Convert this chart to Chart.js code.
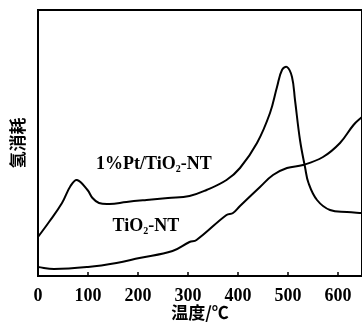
<!DOCTYPE html>
<html>
<head>
<meta charset="utf-8">
<script src="https://cdn.jsdelivr.net/npm/chart.js@4/dist/chart.umd.min.js"></script>
<style>
  html, body { margin: 0; padding: 0; background: #fff; }
  #wrap { width: 362px; height: 328px; }
</style>
</head>
<body>
<div id="wrap"><canvas id="tpr"></canvas></div>
<script>
// 温度 (°C) 与氢消耗 (任意单位)
const ptTemp = [0, 22, 48, 65, 78, 99, 109, 122, 143, 177, 217, 260, 303, 337, 377, 404, 438, 464, 478, 488, 498, 508, 514, 524, 534, 541, 558, 584, 618, 648];
const ptH2 = [39, 54, 73, 90, 96, 86, 78, 73, 72, 74, 76, 78, 80, 86, 96, 108, 133, 163, 189, 206, 209, 199, 176, 136, 109, 93, 76, 66, 64, 63];

const tiTemp = [0, 32, 100, 157, 203, 269, 303, 317, 377, 390, 404, 444, 470, 498, 530, 570, 604, 631, 648];
const tiH2 = [9, 7, 9, 13, 18, 25, 34, 36, 61, 63, 70, 89, 101, 108, 111, 119, 133, 151, 159];

const xTicks = [0, 100, 200, 300, 400, 500, 600];

const toPoints = (xs, ys) => xs.map((x, i) => ({ x: x, y: ys[i] }));

const serif = '"Liberation Serif", "Times New Roman", serif';
const cjk = '"Noto Sans CJK SC", sans-serif';

// 曲线标注
const curveLabels = [
  { main: '1%Pt/TiO', sub: '2', tail: '-NT', x: 116, y: 112 },
  { main: 'TiO', sub: '2', tail: '-NT', x: 149, y: 50 }
];

const framePlugin = {
  id: 'frame',
  afterDraw(chart) {
    const { ctx, chartArea: a, scales } = chart;
    ctx.save();
    ctx.strokeStyle = '#000';
    ctx.lineWidth = 2;
    ctx.beginPath();
    ctx.moveTo(a.left, a.top);
    ctx.lineTo(a.right, a.top);
    ctx.lineTo(a.right, a.bottom);
    ctx.stroke();
    // 内向刻度
    ctx.lineWidth = 1.5;
    xTicks.forEach(v => {
      const px = scales.x.getPixelForValue(v);
      ctx.beginPath();
      ctx.moveTo(px, a.bottom);
      ctx.lineTo(px, a.bottom - 4);
      ctx.stroke();
    });
    // 标注文字
    ctx.fillStyle = '#000';
    ctx.textBaseline = 'middle';
    curveLabels.forEach(l => {
      let px = scales.x.getPixelForValue(l.x);
      const py = scales.y.getPixelForValue(l.y);
      ctx.font = 'bold 18px ' + serif;
      ctx.fillText(l.main, px, py);
      px += ctx.measureText(l.main).width;
      ctx.font = 'bold 10px ' + serif;
      ctx.fillText(l.sub, px, py + 5);
      px += ctx.measureText(l.sub).width;
      ctx.font = 'bold 18px ' + serif;
      ctx.fillText(l.tail, px, py);
    });
    ctx.restore();
  }
};

new Chart(document.getElementById('tpr'), {
  type: 'line',
  data: {
    datasets: [{
      label: '1%Pt/TiO2-NT',
      data: toPoints(ptTemp, ptH2),
      borderColor: '#000',
      borderWidth: 2,
      pointRadius: 0,
      tension: 0.4
    }, {
      label: 'TiO2-NT',
      data: toPoints(tiTemp, tiH2),
      borderColor: '#000',
      borderWidth: 2,
      pointRadius: 0,
      tension: 0.4
    }]
  },
  options: {
    responsive: true,
    maintainAspectRatio: false,
    animation: false,
    layout: { padding: { top: 10, right: 0, left: 0, bottom: 0 } },
    plugins: {
      legend: { display: false },
      tooltip: { enabled: false }
    },
    scales: {
      x: {
        type: 'linear',
        min: 0,
        max: 648,
        grid: { display: false },
        border: { display: true, color: '#000', width: 2 },
        ticks: {
          stepSize: 100,
          includeBounds: false,
          color: '#000',
          padding: 2,
          font: { family: serif, size: 18, weight: 'bold' }
        },
        title: {
          display: true,
          text: '温度/℃',
          color: '#000',
          padding: { top: 0, bottom: 5 },
          font: { family: cjk, size: 17, weight: 'bold' }
        },
        afterFit(scale) { scale.height = 52; }
      },
      y: {
        min: 0,
        max: 266,
        grid: { display: false },
        border: { display: true, color: '#000', width: 2 },
        ticks: { display: false },
        title: {
          display: true,
          text: '氢消耗',
          color: '#000',
          padding: { top: 7, bottom: 0 },
          font: { family: cjk, size: 17, weight: 'bold' }
        },
        afterFit(scale) { scale.width = 38; }
      }
    }
  },
  plugins: [framePlugin]
});
</script>
</body>
</html>
